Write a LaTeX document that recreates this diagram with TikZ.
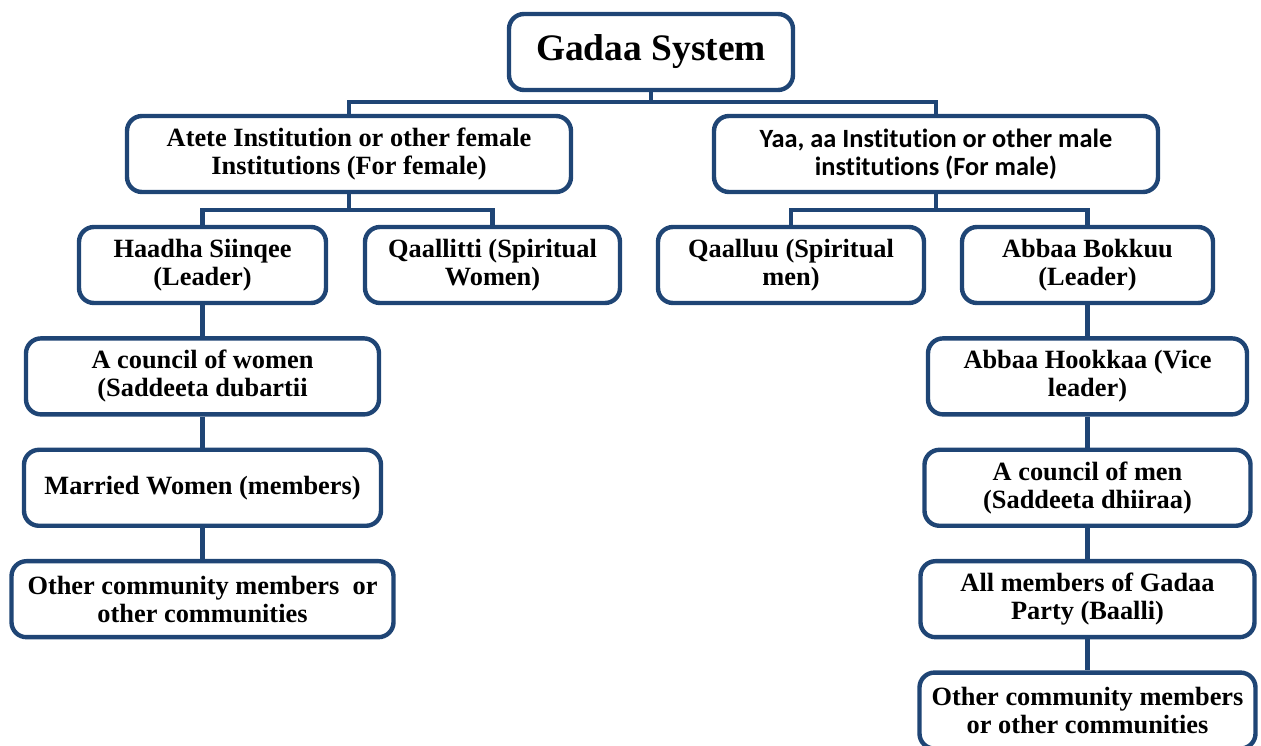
\documentclass[tikz,border=0pt]{standalone}
\usepackage{fontspec}
\setmainfont{Liberation Serif}
\newfontfamily\calibrifont[Ligatures=NoCommon]{Carlito}
\usepackage{tikz}
\usetikzlibrary{positioning}
\definecolor{frame}{RGB}{31,69,117}
\tikzstyle{block}=[rectangle,rounded corners=3mm,line width=2.5pt,draw=frame,fill=white,
  minimum height=1.52cm,align=center,font=\fontsize{15}{15.8}\selectfont\bfseries]
\tikzstyle{link}=[line width=2.5pt,draw=frame]

\begin{document}
\begin{tikzpicture}[node distance=0.62cm]
  \useasboundingbox (0,0) rectangle (25.22,-14.92);

  \node[block,minimum width=5.68cm,font=\fontsize{21.3}{24}\selectfont\bfseries] (gadaa) at (13.02,-1.04) {Gadaa System};

  % first level
  \node[block,minimum width=8.88cm] (atete) at (6.98,-3.08) {Atete Institution or other female\\Institutions (For female)};
  \node[block,minimum width=8.88cm,font=\fontsize{15}{15.8}\calibrifont\bfseries] (yaa) at (18.72,-3.08) {Yaa, aa Institution or other male\\institutions (For male)};

  % second level
  \node[block,minimum width=4.94cm] (haadha) at (4.05,-5.3) {Haadha Siinqee\\(Leader)};
  \node[block,minimum width=5.1cm] (qaallitti) at (9.85,-5.3) {Qaallitti (Spiritual\\Women)};
  \node[block,minimum width=5.32cm] (qaalluu) at (15.82,-5.3) {Qaalluu (Spiritual\\men)};
  \node[block,minimum width=5.02cm] (bokkuu) at (21.75,-5.3) {Abbaa Bokkuu\\(Leader)};

  % female side
  \node[block,minimum width=7.06cm,below=of haadha] (cwomen) {A council of women\\(Saddeeta dubartii};
  \node[block,minimum width=7.14cm,below=of cwomen] (married) {Married Women (members)};
  \node[block,minimum width=7.64cm,below=of married] (otherf) {Other community members\ \ or\\other communities};

  % male side
  \node[block,minimum width=6.38cm,below=of bokkuu] (hookkaa) {Abbaa Hookkaa (Vice\\leader)};
  \node[block,minimum width=6.52cm,below=of hookkaa] (cmen) {A council of men\\(Saddeeta dhiiraa)};
  \node[block,minimum width=6.68cm,below=of cmen] (baalli) {All members of Gadaa\\Party (Baalli)};
  \node[block,minimum width=6.72cm,below=of baalli] (otherm) {Other community members\\or other communities};

  % connectors
  \draw[link] (gadaa.south) -- ++(0,-0.2) -| (atete.north);
  \draw[link] (gadaa.south) -- ++(0,-0.2) -| (yaa.north);
  \draw[link] (atete.south) -- ++(0,-0.32) -| (haadha.north);
  \draw[link] (atete.south) -- ++(0,-0.32) -| (qaallitti.north);
  \draw[link] (yaa.south) -- ++(0,-0.32) -| (qaalluu.north);
  \draw[link] (yaa.south) -- ++(0,-0.32) -| (bokkuu.north);
  \draw[link] (haadha) -- (cwomen);
  \draw[link] (cwomen) -- (married);
  \draw[link] (married) -- (otherf);
  \draw[link] (bokkuu) -- (hookkaa);
  \draw[link] (hookkaa) -- (cmen);
  \draw[link] (cmen) -- (baalli);
  \draw[link] (baalli) -- (otherm);
\end{tikzpicture}
\end{document}
